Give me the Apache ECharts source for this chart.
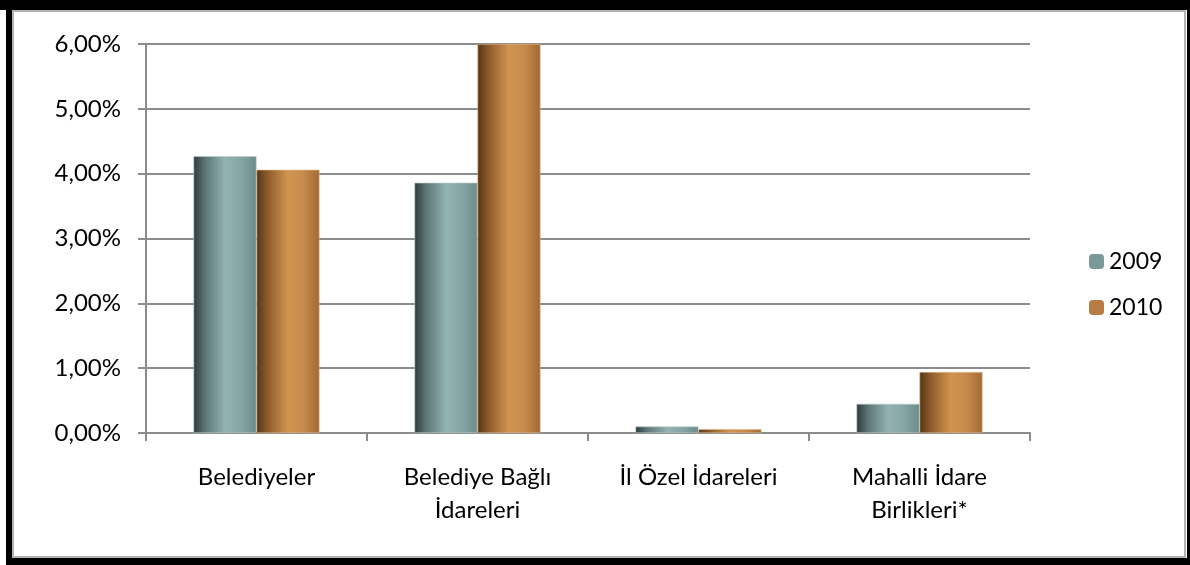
<!DOCTYPE html>
<html>
<head>
<meta charset="utf-8">
<script src="https://cdn.jsdelivr.net/npm/echarts@6/dist/echarts.min.js"></script>
<style>html,body{margin:0;padding:0;background:#fff}#c{width:1190px;height:565px}</style>
</head>
<body>
<div id="c"></div>
<script>
const categories = ['Belediyeler', 'Belediye Bağlı\nİdareleri', 'İl Özel İdareleri', 'Mahalli İdare\nBirlikleri*'];
const seriesNames = ['2009', '2010'];
const values2009 = [4.27, 3.86, 0.10, 0.45];
const values2010 = [4.06, 6.00, 0.06, 0.94];
const yTicks = { min: 0, max: 6, interval: 1 };

const chart = echarts.init(document.getElementById('c'), null, { renderer: 'canvas' });
const font = 'Lato, "Open Sans", sans-serif';
function grad(stops) {
  return new echarts.graphic.LinearGradient(0, 0, 1, 0, stops.map(s => ({ offset: s[0], color: s[1] })));
}
const g2009 = grad([[0, '#2c3c3e'], [0.18, '#5d7474'], [0.5, '#93b2b2'], [0.75, '#86a5a5'], [1, '#6c8b8b']]);
const g2010 = grad([[0, '#553515'], [0.18, '#8e5c2c'], [0.5, '#d19550'], [0.75, '#c68a4c'], [1, '#a06a34']]);

chart.setOption({
  animation: false,
  grid: { left: 146, right: 160, top: 44, bottom: 132 },
  legend: {
    orient: 'vertical', left: 1084, top: 245,
    itemWidth: 15, itemHeight: 15, itemGap: 23,
    textStyle: { fontFamily: font, fontSize: 23, color: '#000' },
    data: [
      { name: seriesNames[0], itemStyle: { color: '#7a9a9a', borderWidth: 0 } },
      { name: seriesNames[1], itemStyle: { color: '#b87d45', borderWidth: 0 } }
    ]
  },
  xAxis: {
    type: 'category', data: categories,
    axisLine: { lineStyle: { color: '#8c8c8c', width: 2 } },
    axisTick: { show: true, length: 8, lineStyle: { color: '#8c8c8c', width: 2 }, alignWithLabel: false },
    axisLabel: { fontFamily: font, fontSize: 24, color: '#000', lineHeight: 33, margin: 28, interval: 0 }
  },
  yAxis: {
    type: 'value', min: yTicks.min, max: yTicks.max, interval: yTicks.interval,
    axisLine: { show: true, lineStyle: { color: '#8c8c8c', width: 2 } },
    axisTick: { show: true, length: 8, lineStyle: { color: '#8c8c8c', width: 2 } },
    splitLine: { lineStyle: { color: '#8c8c8c', width: 2 } },
    axisLabel: { fontFamily: font, fontSize: 24, color: '#000', margin: 25,
      formatter: v => v.toFixed(2).replace('.', ',') + '%' }
  },
  series: [
    { name: seriesNames[0], type: 'bar', data: values2009, barWidth: 63, barGap: '0%',
      itemStyle: { color: g2009, borderColor: '#b8cccc', borderWidth: 0.6 } },
    { name: seriesNames[1], type: 'bar', data: values2010, barWidth: 63, barGap: '0%',
      itemStyle: { color: g2010, borderColor: '#e0b888', borderWidth: 0.6 } }
  ],
  graphic: [
    { type: 'rect', shape: { x: 0, y: 0, width: 1190, height: 10 }, style: { fill: '#000' }, z: 100 },
    { type: 'rect', shape: { x: 6, y: 0, width: 6, height: 565 }, style: { fill: '#000' }, z: 100 },
    { type: 'rect', shape: { x: 1187, y: 0, width: 3, height: 565 }, style: { fill: '#000' }, z: 100 },
    { type: 'rect', shape: { x: 6, y: 558, width: 1184, height: 7 }, style: { fill: '#000' }, z: 100 },
    { type: 'rect', shape: { x: 13, y: 11, width: 1172, height: 546 }, style: { fill: 'none', stroke: '#9a9a9a', lineWidth: 1.5 }, z: 100 }
  ]
});
</script>
</body>
</html>
